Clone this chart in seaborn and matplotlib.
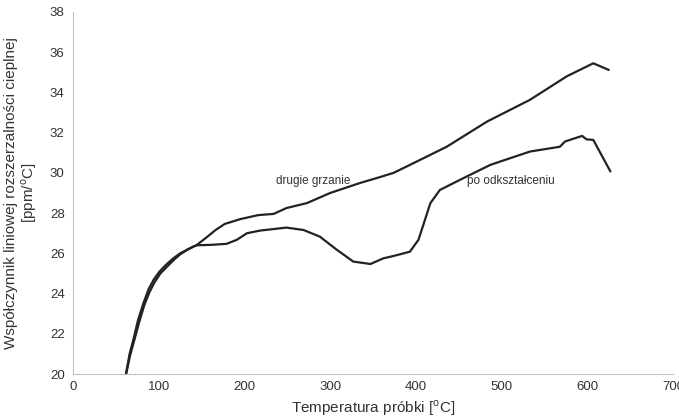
import numpy as np
import pandas as pd
import matplotlib
matplotlib.use("Agg")
import matplotlib.pyplot as plt
import seaborn as sns

# dane
t_drugie = [61.8, 66, 70.4, 76, 82, 88, 94, 101, 109, 117, 125, 134, 144, 156, 166,
            177, 195, 216, 234, 249, 273, 300, 335, 358, 374, 397, 436, 483, 533,
            576, 607, 625]
a_drugie = [20.0, 21.0, 21.7, 22.7, 23.5, 24.2, 24.68, 25.1, 25.45, 25.75, 26.0, 26.2,
            26.4, 26.8, 27.15, 27.46, 27.7, 27.9, 27.96, 28.25, 28.5, 29.0, 29.5,
            29.79, 30.0, 30.48, 31.3, 32.55, 33.63, 34.8, 35.45, 35.12]

t_odksz = [62, 66.5, 71, 77, 83, 89, 95, 102, 110, 117, 125, 133, 140, 144, 160,
           179, 191, 203, 218, 249, 269, 288, 308, 327, 347, 362, 374, 393, 403,
           417, 428, 455, 487, 533, 568, 574, 594, 599, 607, 627]
a_odksz = [20.0, 20.9, 21.6, 22.55, 23.4, 24.05, 24.55, 25.0, 25.35, 25.65, 25.95,
           26.17, 26.33, 26.4, 26.42, 26.47, 26.67, 27.0, 27.13, 27.28, 27.16, 26.83,
           26.17, 25.59, 25.47, 25.75, 25.87, 26.08, 26.67, 28.5, 29.15, 29.73,
           30.4, 31.06, 31.3, 31.56, 31.84, 31.67, 31.64, 30.07]

x_ticks = [0, 100, 200, 300, 400, 500, 600, 700]
y_ticks = [20, 22, 24, 26, 28, 30, 32, 34, 36, 38]

df = pd.concat([
    pd.DataFrame({"T": t_drugie, "alpha": a_drugie, "seria": "drugie grzanie"}),
    pd.DataFrame({"T": t_odksz, "alpha": a_odksz, "seria": "po odkształceniu"}),
])

sns.set_style("white")
plt.rcParams["font.family"] = ["Liberation Sans", "DejaVu Sans"]

fig = plt.figure(figsize=(6.79, 4.19), dpi=100)
ax = fig.add_axes([73 / 679, 45 / 419, 600 / 679, 362 / 419])

sns.lineplot(data=df, x="T", y="alpha", units="seria", estimator=None,
             color="#222222", linewidth=1.6, sort=False, ax=ax, legend=False)

ax.set_xlim(0, 700)
ax.set_ylim(20, 38)
ax.set_xticks(x_ticks)
ax.set_yticks(y_ticks)
ax.tick_params(axis="both", length=3, width=0.8, color="#bfbfbf",
               labelsize=9.5, labelcolor="#333333")
ax.tick_params(axis="x", direction="in", pad=5)
ax.tick_params(axis="y", direction="out", pad=3)
for s in ["top", "right"]:
    ax.spines[s].set_visible(False)
for s in ["left", "bottom"]:
    ax.spines[s].set_color("#bfbfbf")
    ax.spines[s].set_linewidth(0.8)

ax.set_xlabel("Temperatura próbki [$^\\mathregular{o}$C]", fontsize=11, color="#333333",
              labelpad=4)
ax.set_ylabel("Współczynnik liniowej rozszerzalności cieplnej\n[ppm/$^\\mathregular{o}$C]",
              fontsize=11, color="#333333", linespacing=1.05, labelpad=8)

ax.text(237, 29.6, "drugie grzanie", fontsize=8.5, color="#333333", va="center")
ax.text(460, 29.6, "po odkształceniu", fontsize=8.5, color="#333333", va="center")

fig.savefig("out.png", dpi=100)
